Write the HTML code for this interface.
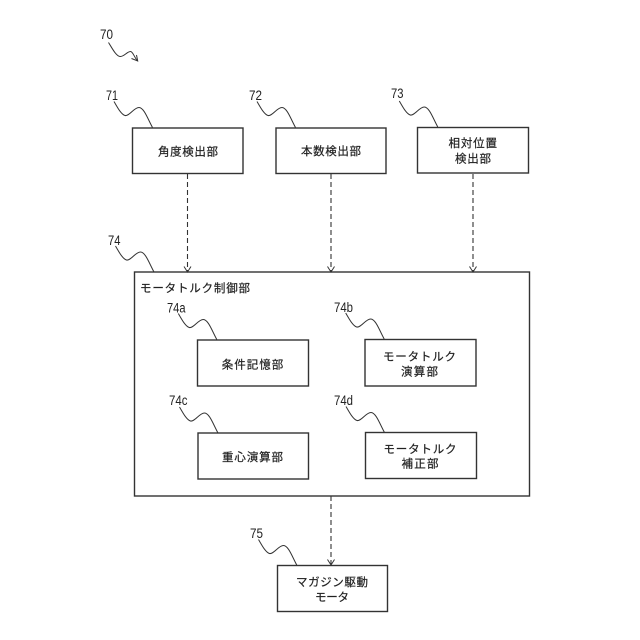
<!DOCTYPE html>
<html>
<head>
<meta charset="utf-8">
<style>
html,body{margin:0;padding:0;background:#fff;width:640px;height:640px;overflow:hidden}
svg{display:block}
.b{fill:none;stroke:#333;stroke-width:1.4}
.s{fill:none;stroke:#333;stroke-width:1}
.d{fill:none;stroke:#333;stroke-width:1.1;stroke-dasharray:5 3}
.a{fill:none;stroke:#333;stroke-width:1}
.t{font-family:"Liberation Sans","Noto Sans CJK JP",sans-serif;font-size:11.5px;fill:#222;stroke:#222;stroke-width:.2}
.n{font-family:"Liberation Sans",sans-serif;font-size:13.5px;fill:#222}
</style>
</head>
<body>
<svg width="640" height="640" viewBox="0 0 640 640" xmlns="http://www.w3.org/2000/svg">
<defs>
<path id="q" d="M0 0C3 5 7 13 11 14C15 15 20 6 25 6C30 6 34 18 38.5 26"/>
</defs>

<!-- boxes -->
<rect class="b" x="132.5" y="128" width="110.5" height="45.5"/>
<rect class="b" x="276" y="128" width="110" height="45.5"/>
<rect class="b" x="417.5" y="127.5" width="111" height="45.5"/>
<rect class="b" x="134.5" y="272" width="395" height="224"/>
<rect class="b" x="197.5" y="340" width="111" height="46"/>
<rect class="b" x="365" y="339.5" width="111" height="46.5"/>
<rect class="b" x="198" y="433" width="110.5" height="46"/>
<rect class="b" x="365.5" y="432.5" width="111" height="46"/>
<rect class="b" x="277.5" y="565.5" width="110" height="46"/>

<!-- dashed connectors -->
<path class="d" d="M187.5 174V271"/>
<path class="a" d="M184 266.5L187.5 272L191 266.5"/>
<path class="d" d="M331 174V271"/>
<path class="a" d="M327.5 266.5L331 272L334.5 266.5"/>
<path class="d" d="M473 174V271"/>
<path class="a" d="M469.500 266.500L473 272L476.500 266.500"/>
<path class="d" d="M331 496V564"/>
<path class="a" d="M327.500 559.500L331 565L334.500 559.500"/>

<!-- leader squiggles -->
<path class="s" d="M108.500 42.500C112 48 116 56 120 56.500C124 57 127 51.500 130.500 51.500C133 51.500 134.500 58 137.700 61"/>
<path class="a" d="M131.500 58.500L137.700 61L136.500 55"/>
<use class="s" href="#q" x="114" y="101.500"/>
<use class="s" href="#q" x="257" y="101.500"/>
<use class="s" href="#q" x="399.300" y="101"/>
<use class="s" href="#q" x="115.500" y="246"/>
<use class="s" href="#q" x="178.300" y="313.500"/>
<use class="s" href="#q" x="345.700" y="313"/>
<use class="s" href="#q" x="179.500" y="407"/>
<use class="s" href="#q" x="346" y="406.500"/>
<use class="s" href="#q" x="258.500" y="539.500"/>

<!-- reference numbers -->
<text class="n" x="100" y="39" textLength="13" lengthAdjust="spacingAndGlyphs">70</text>
<text class="n" x="106" y="100" textLength="12" lengthAdjust="spacingAndGlyphs">71</text>
<text class="n" x="249" y="100" textLength="13" lengthAdjust="spacingAndGlyphs">72</text>
<text class="n" x="391" y="98" textLength="12.500" lengthAdjust="spacingAndGlyphs">73</text>
<text class="n" x="108" y="245" textLength="12.500" lengthAdjust="spacingAndGlyphs">74</text>
<text class="n" x="167" y="312.500" textLength="18.500" lengthAdjust="spacingAndGlyphs">74a</text>
<text class="n" x="334" y="312" textLength="19" lengthAdjust="spacingAndGlyphs">74b</text>
<text class="n" x="169" y="405" textLength="18.500" lengthAdjust="spacingAndGlyphs">74c</text>
<text class="n" x="334" y="405" textLength="19" lengthAdjust="spacingAndGlyphs">74d</text>
<text class="n" x="250" y="538" textLength="13" lengthAdjust="spacingAndGlyphs">75</text>

<!-- node labels -->
<text class="t" x="158" y="155.500" textLength="60">角度検出部</text>
<text class="t" x="301" y="155" textLength="60">本数検出部</text>
<text class="t" x="448.500" y="147" textLength="48.500">相対位置</text>
<text class="t" x="455" y="162.500" textLength="36">検出部</text>
<text class="t" x="140" y="292" textLength="110">モータトルク制御部</text>
<text class="t" x="221.700" y="368.500" textLength="61.500">条件記憶部</text>
<text class="t" x="383" y="360.500" textLength="73">モータトルク</text>
<text class="t" x="401" y="375.500" textLength="37">演算部</text>
<text class="t" x="222" y="461" textLength="61">重心演算部</text>
<text class="t" x="383.500" y="453" textLength="73">モータトルク</text>
<text class="t" x="401.500" y="467.500" textLength="37">補正部</text>
<text class="t" x="296" y="586" textLength="72">マガジン駆動</text>
<text class="t" x="315" y="601" textLength="34">モータ</text>
</svg>
</body>
</html>
